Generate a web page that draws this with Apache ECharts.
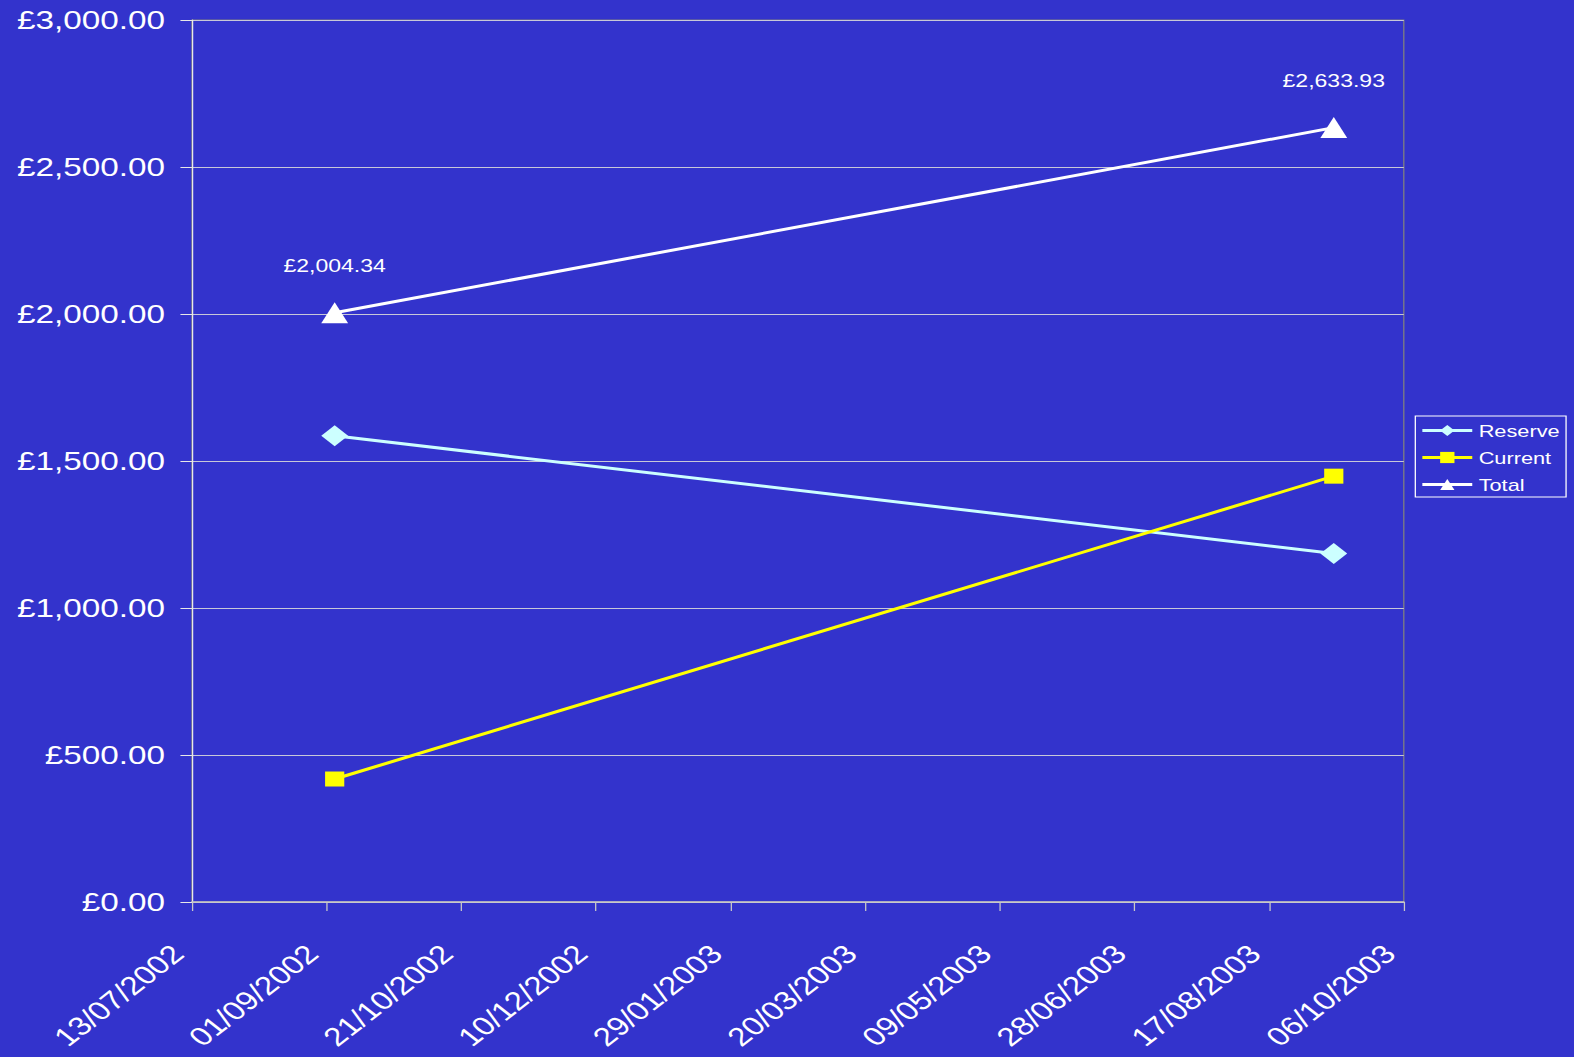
<!DOCTYPE html>
<html>
<head>
<meta charset="utf-8">
<script src="https://cdn.jsdelivr.net/npm/echarts@6/dist/echarts.min.js"></script>
<style>
html,body{margin:0;padding:0;background:#3333CC;overflow:hidden;}
#chart{width:1230px;height:1057px;transform:scaleX(1.27967);transform-origin:0 0;}
</style>
</head>
<body>
<div id="chart"></div>
<script>
// ---- data ----
var axisStart = '2002-07-13';
var axisEnd = '2003-10-06';
var tickStepDays = 50;
var dates = ['2002-09-04', '2003-09-10'];
var reserve = [1586.00, 1185.50];
var current = [418.34, 1448.43];
var total = [2004.34, 2633.93];
var yTicks = [0, 500, 1000, 1500, 2000, 2500, 3000];

// ---- helpers ----
function dayNum(s){ var p = s.split('-'); return Date.UTC(+p[0], +p[1]-1, +p[2]) / 86400000; }
var d0 = dayNum(axisStart);
function offset(s){ return dayNum(s) - d0; }
function fmtDate(off){
  var d = new Date((d0 + off) * 86400000);
  var dd = ('0' + d.getUTCDate()).slice(-2), mm = ('0' + (d.getUTCMonth()+1)).slice(-2);
  return dd + '/' + mm + '/' + d.getUTCFullYear();
}
function fmtMoney(v){
  var s = Number(v).toFixed(2).split('.');
  s[0] = s[0].replace(/\B(?=(\d{3})+(?!\d))/g, ',');
  return '\u00A3' + s[0] + '.' + s[1];
}
function pairs(vals){ return dates.map(function(d, i){ return [offset(d), vals[i]]; }); }

var font = 'Liberation Sans, Arial, sans-serif';
var chart = echarts.init(document.getElementById('chart'), null, { renderer: 'svg' });
chart.setOption({
  backgroundColor: '#3333CC',
  animation: false,
  textStyle: { fontFamily: font },
  grid: { left: 150, right: 133, top: 20, bottom: 155, show: true, borderColor: '#808080', borderWidth: 1, containLabel: false },
  legend: {
    orient: 'vertical', left: 1106, top: 416,
    backgroundColor: '#3333CC',
    borderColor: '#ffffff', borderWidth: 1,
    padding: [6, 5, 4, 4], itemGap: 10, itemWidth: 39, itemHeight: 14,
    lineStyle: { width: 3 },
    textStyle: { color: '#ffffff', fontSize: 17, fontFamily: font },
    data: ['Reserve', 'Current', 'Total']
  },
  xAxis: {
    type: 'value', min: 0, max: offset(axisEnd), interval: tickStepDays,
    axisLine: { show: true, lineStyle: { color: '#c8c8c8', width: 1.5 } },
    axisTick: { show: true, length: 9, lineStyle: { color: '#c8c8c8', width: 1 } },
    splitLine: { show: false },
    axisLabel: { rotate: 45, margin: 36, padding: [0, 16, 0, 0], color: '#ffffff', fontSize: 26, fontFamily: font, formatter: function(v){ return fmtDate(v); } }
  },
  yAxis: {
    type: 'value', min: yTicks[0], max: yTicks[yTicks.length-1], interval: yTicks[1] - yTicks[0],
    axisLine: { show: true, lineStyle: { color: '#e8e8e8', width: 1 } },
    axisTick: { show: true, length: 9, lineStyle: { color: '#e8e8e8' } },
    splitLine: { show: true, lineStyle: { color: '#c8c8d8', width: 1 } },
    axisLabel: { margin: 21, color: '#ffffff', fontSize: 26, fontFamily: font, formatter: function(v){ return fmtMoney(v); } }
  },
  series: [
    { name: 'Reserve', type: 'line', data: pairs(reserve),
      symbol: 'diamond', symbolSize: [21, 21],
      lineStyle: { color: '#CCFFFF', width: 3 }, itemStyle: { color: '#CCFFFF' } },
    { name: 'Current', type: 'line', data: pairs(current),
      symbol: 'rect', symbolSize: [15, 15],
      lineStyle: { color: '#FFFF00', width: 3 }, itemStyle: { color: '#FFFF00' } },
    { name: 'Total', type: 'line', data: pairs(total),
      symbol: 'triangle', symbolSize: [21, 21],
      lineStyle: { color: '#FFFFFF', width: 3 }, itemStyle: { color: '#FFFFFF' },
      label: { show: true, position: 'top', distance: 28, color: '#ffffff', fontSize: 18, fontFamily: font,
        formatter: function(p){ return fmtMoney(p.value[1]); } } }
  ]
});
</script>
</body>
</html>
